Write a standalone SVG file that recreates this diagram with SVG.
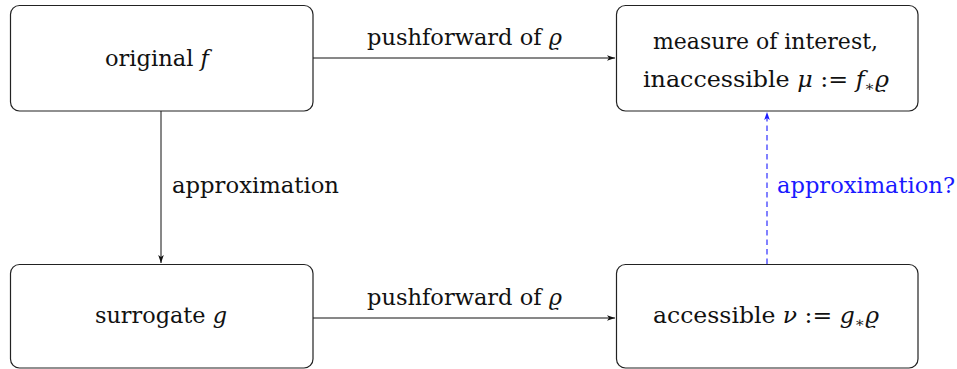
<svg xmlns="http://www.w3.org/2000/svg" width="957" height="369" viewBox="0 0 957 369">
<style>
.box{fill:#fff;stroke:#222;stroke-width:1.2}
text{font-family:"DejaVu Serif","Liberation Serif",serif;font-size:21.5px;fill:#111}
.i{font-style:italic}
.e{stroke:#111;stroke-width:1;fill:none}
.blue{fill:#1a1aff}
</style>
<defs>
<marker id="ah" viewBox="0 0 10 10" refX="10" refY="5" markerWidth="8" markerHeight="8" markerUnits="userSpaceOnUse" orient="auto">
<path d="M0,1.5 L10,5 L0,8.5 L2.5,5 Z" fill="#111"/>
</marker>
<marker id="ahb" viewBox="0 0 10 10" refX="10" refY="5" markerWidth="8" markerHeight="8" markerUnits="userSpaceOnUse" orient="auto">
<path d="M0,1.5 L10,5 L0,8.5 L2.5,5 Z" fill="#1a1aff"/>
</marker>
</defs>
<g id="edges">
<line class="e" x1="313" y1="58" x2="615" y2="58" marker-end="url(#ah)"/>
<line class="e" x1="313" y1="318" x2="615" y2="318" marker-end="url(#ah)"/>
<line class="e" x1="161" y1="111" x2="161" y2="263" marker-end="url(#ah)"/>
<line x1="767" y1="264" x2="767" y2="112" stroke="#1a1aff" stroke-width="1.1" stroke-dasharray="5.5 4" marker-end="url(#ahb)"/>
<text x="367" y="45" textLength="195" lengthAdjust="spacingAndGlyphs">pushforward of <tspan class="i">ϱ</tspan></text>
<text x="367" y="305" textLength="195" lengthAdjust="spacingAndGlyphs">pushforward of <tspan class="i">ϱ</tspan></text>
<text x="172" y="193" textLength="167" lengthAdjust="spacingAndGlyphs">approximation</text>
<text x="777" y="193" class="blue" textLength="178" lengthAdjust="spacingAndGlyphs">approximation?</text>
</g>
<g id="original">
<rect class="box" x="10.5" y="5.5" width="302.5" height="105.5" rx="9"/>
<text x="105" y="66" textLength="104" lengthAdjust="spacingAndGlyphs">original <tspan class="i">f</tspan></text>
</g>
<g id="measure">
<rect class="box" x="616.5" y="5.5" width="301.5" height="105.5" rx="9"/>
<text x="653" y="49" textLength="225" lengthAdjust="spacingAndGlyphs">measure of interest,</text>
<text x="643" y="87" textLength="246" lengthAdjust="spacingAndGlyphs">inaccessible <tspan class="i">μ</tspan> := <tspan class="i">f</tspan><tspan font-size="14" dy="4">∗</tspan><tspan class="i" dy="-4">ϱ</tspan></text>
</g>
<g id="surrogate">
<rect class="box" x="10.5" y="264.5" width="302.5" height="103.5" rx="9"/>
<text x="95" y="323" textLength="132" lengthAdjust="spacingAndGlyphs">surrogate <tspan class="i">g</tspan></text>
</g>
<g id="accessible">
<rect class="box" x="616.5" y="264.5" width="301.5" height="103.5" rx="9"/>
<text x="653" y="323" textLength="226" lengthAdjust="spacingAndGlyphs">accessible <tspan class="i">ν</tspan> := <tspan class="i">g</tspan><tspan font-size="14" dy="4">∗</tspan><tspan class="i" dy="-4">ϱ</tspan></text>
</g>
</svg>
